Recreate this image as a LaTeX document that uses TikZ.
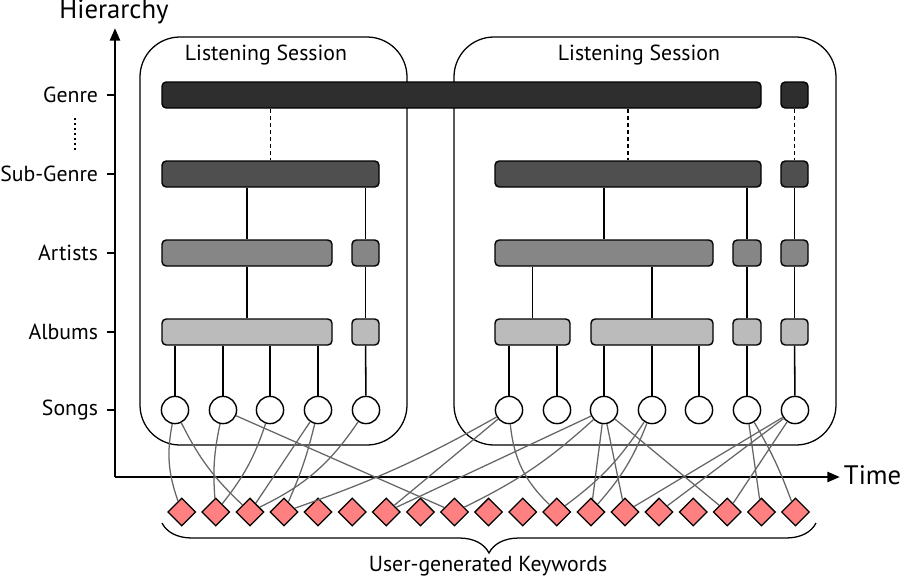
\documentclass[tikz,border=0pt]{standalone}
\usepackage{fontspec}
\setmainfont{PT Sans}
\usetikzlibrary{arrows.meta,shapes.geometric,fit,decorations.pathreplacing}

\definecolor{genrefill}{HTML}{2E2E2E}
\definecolor{subfill}{HTML}{4F4F4F}
\definecolor{artistfill}{HTML}{868686}
\definecolor{albumfill}{HTML}{BBBBBB}
\definecolor{kwred}{HTML}{FF8080}

\tikzstyle{bar}= [rectangle,draw,black,rounded corners=3pt,line width=1pt,inner sep=0pt]
\tikzstyle{song}= [circle,draw,black,fill=white,line width=1pt,minimum size=0.68cm,inner sep=0pt]
\tikzstyle{kwd}= [diamond,draw,black,fill=kwred,line width=0.9pt,minimum width=0.7cm,minimum height=0.7cm,inner sep=0pt]
\tikzstyle{session}= [rectangle,draw,black,rounded corners=1cm,line width=0.9pt,inner sep=0pt]
\tikzstyle{link}= [black,line width=1.1pt]
\tikzstyle{tag}= [black!60,line width=0.9pt]
\tikzstyle{lvl}= [anchor=east,font=\fontsize{15.5}{17}\selectfont]

\begin{document}
\begin{tikzpicture}[x=0.025cm,y=-0.025cm]
		\useasboundingbox (0,0) rectangle (904,587);

		% axes
		\coordinate (O) at (115,477);
		\coordinate (ytop) at (115,28);
		\coordinate (xend) at (840,477);
		\draw[line width=2pt,-{Triangle[length=9pt,width=7pt]}] (O) -- (ytop);
		\draw[line width=2pt,-{Triangle[length=9pt,width=7pt]}] (O) -- (xend);
		\node (hier) at (114,12) {\fontsize{19}{21}\selectfont Hierarchy};
		\node[anchor=west] (time) at (839,475) {\fontsize{19}{21}\selectfont Time};

		\foreach \y/\lab in {95/Genre,174/Sub-Genre,253/Artists,332/Albums,410/Songs} {
			\draw[line width=1pt] (107,\y) -- (115,\y);
			\node[lvl] at (103,\y) {\lab};
		}
		\draw[line width=1.2pt,dash pattern=on 1.2pt off 2.4pt] (75,118) -- (75,152);

		% sessions
		\node[session,fit={(140,37) (407,445)}] (ses1) {};
		\node[session,fit={(454,37) (836,445)}] (ses2) {};
		\node at (266,55) {\fontsize{15.5}{17}\selectfont Listening Session};
		\node at (639,55) {\fontsize{15.5}{17}\selectfont Listening Session};

		% genre
		\node[bar,fill=genrefill,fit={(162,82) (761,108)}] (g1) {};
		\node[bar,fill=genrefill,fit={(781,82) (808,108)}] (g2) {};
		% sub-genre
		\node[bar,fill=subfill,fit={(162,161) (379,187)}] (s1) {};
		\node[bar,fill=subfill,fit={(495,161) (761,187)}] (s2) {};
		\node[bar,fill=subfill,fit={(781,161) (808,187)}] (s3) {};
		% artists
		\node[bar,fill=artistfill,fit={(162,240) (332,266)}] (a1) {};
		\node[bar,fill=artistfill,fit={(352,240) (379,266)}] (a2) {};
		\node[bar,fill=artistfill,fit={(495,240) (713,266)}] (a3) {};
		\node[bar,fill=artistfill,fit={(733,240) (761,266)}] (a4) {};
		\node[bar,fill=artistfill,fit={(781,240) (808,266)}] (a5) {};
		% albums
		\node[bar,fill=albumfill,fit={(162,319) (332,345)}] (b1) {};
		\node[bar,fill=albumfill,fit={(352,319) (379,345)}] (b2) {};
		\node[bar,fill=albumfill,fit={(495,319) (570,345)}] (b3) {};
		\node[bar,fill=albumfill,fit={(591,319) (713,345)}] (b4) {};
		\node[bar,fill=albumfill,fit={(733,319) (761,345)}] (b5) {};
		\node[bar,fill=albumfill,fit={(781,319) (808,345)}] (b6) {};
		% songs
		\node[song] (l1) at (175,410) {};
		\node[song] (l2) at (223,410) {};
		\node[song] (l3) at (270,410) {};
		\node[song] (l4) at (318,410) {};
		\node[song] (l5) at (366,410) {};
		\node[song] (r1) at (509,410) {};
		\node[song] (r2) at (557,410) {};
		\node[song] (r3) at (604,410) {};
		\node[song] (r4) at (652,410) {};
		\node[song] (r5) at (699,410) {};
		\node[song] (r6) at (747,410) {};
		\node[song] (r7) at (795,410) {};
		% keywords
		\foreach \i in {1,...,19}
			\node[kwd] (k\i) at ({181.7+34.1*(\i-1)},512) {};

		\draw[link,dash pattern=on 3pt off 2pt] (g1.south -| s1) -- (s1.north);
		\draw[link,dash pattern=on 3pt off 2pt] (g1.south -| s2) -- (s2.north);
		\draw[link,dash pattern=on 3pt off 2pt] (g2) -- (s3);
		\draw[link] (s1.south -| a1) -- (a1.north);
		\draw[link] (s1.south -| a2) -- (a2.north);
		\draw[link] (s2.south -| a3) -- (a3.north);
		\draw[link] (s2.south -| a4) -- (a4.north);
		\draw[link] (s3) -- (a5);
		\draw[link] (a1) -- (b1);
		\draw[link] (a2) -- (b2);
		\draw[link] (a3.south -| b3) -- (b3.north);
		\draw[link] (a3.south -| b4) -- (b4.north);
		\draw[link] (a4) -- (b5);
		\draw[link] (a5) -- (b6);
		\foreach \s in {l1,l2,l3,l4}
			\draw[link] (b1.south -| \s) -- (\s);
		\draw[link] (b2) -- (l5);
		\draw[link] (b3.south -| r1) -- (r1);
		\draw[link] (b3.south -| r2) -- (r2);
		\draw[link] (b4.south -| r3) -- (r3);
		\draw[link] (b4.south -| r4) -- (r4);
		\draw[link] (b4.south -| r5) -- (r5);
		\draw[link] (b5) -- (r6);
		\draw[link] (b6) -- (r7);

		% songs to keywords
		\draw[tag] (l1) to[bend right=15] (k1);
		\draw[tag] (l1) to[bend right=10] (k3);
		\draw[tag] (l2) to[bend right=8] (k2);
		\draw[tag] (l2) -- (k9);
		\draw[tag] (l3) to[bend left=10] (k2);
		\draw[tag] (l4) -- (k3);
		\draw[tag] (l4) to[bend left=5] (k4);
		\draw[tag] (l5) to[bend left=15] (k3);
		\draw[tag] (r1) to[bend left=5] (k4);
		\draw[tag] (r1) -- (k7);
		\draw[tag] (r1) to[bend right=20] (k12);
		\draw[tag] (r3) -- (k7);
		\draw[tag] (r3) to[bend left=8] (k9);
		\draw[tag] (r3) -- (k13);
		\draw[tag] (r3) -- (k14);
		\draw[tag] (r3) -- (k17);
		\draw[tag] (r4) to[bend left=10] (k12);
		\draw[tag] (r4) to[bend left=10] (k13);
		\draw[tag] (r6) -- (k18);
		\draw[tag] (r6) to[bend left=5] (k19);
		\draw[tag] (r7) -- (k14);
		\draw[tag] (r7) -- (k15);
		\draw[tag] (r7) -- (k17);

		% brace
		\coordinate (bl) at (162,523);
		\coordinate (br) at (816,523);
		\draw[line width=0.9pt,decorate,decoration={brace,mirror,amplitude=0.75cm}] (bl) -- (br);
		\node (kwlab) at (488,566) {\fontsize{15.5}{17}\selectfont User-generated Keywords};

	\end{tikzpicture}
\end{document}
